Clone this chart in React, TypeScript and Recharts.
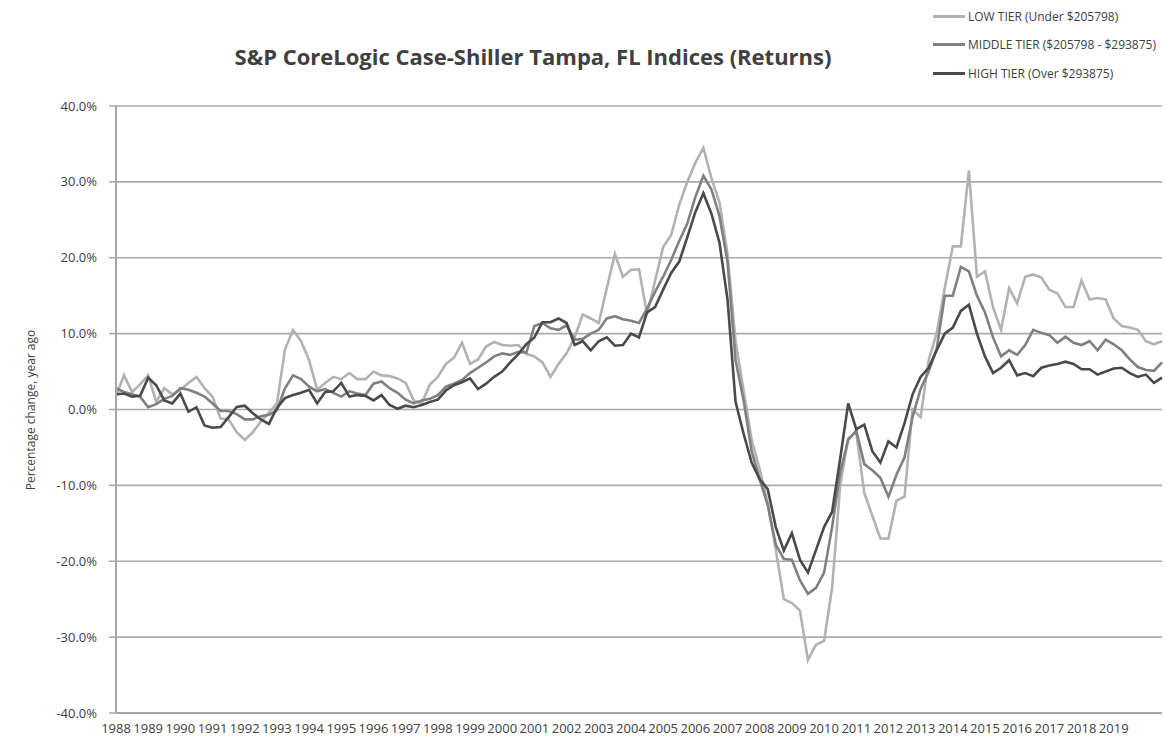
import React from 'react';
import { LineChart, Line, XAxis, YAxis, CartesianGrid } from 'recharts';

// quarterly year-over-year change (%), Q1 1988 .. Q3 2020
const lowTier = [
    1.8, 4.5, 2.3, 3.3,
    4.5, 1.0, 2.8, 2.0,
    2.6, 3.5, 4.3, 2.8,
    1.7, -1.2, -1.3, -3.0,
    -4.0, -3.0, -1.6, -0.4,
    0.8, 7.9, 10.5, 9.0,
    6.5, 2.6, 3.5, 4.3,
    4.0, 4.8, 4.0, 4.0,
    5.0, 4.5, 4.4, 4.1,
    3.5, 1.2, 0.8, 3.3,
    4.3, 6.0, 6.8, 8.8,
    6.0, 6.6, 8.3, 8.9,
    8.5, 8.4, 8.5, 7.3,
    7.0, 6.2, 4.3, 6.0,
    7.4, 9.5, 12.5, 12.0,
    11.4, 16.0, 20.5, 17.5,
    18.4, 18.5, 12.5, 17.0,
    21.4, 23.0, 27.0, 30.0,
    32.5, 34.5, 30.5, 27.3,
    20.5, 9.0, 2.5, -4.0,
    -7.9, -12.4, -18.5, -25.0,
    -25.5, -26.5, -33.0, -31.0,
    -30.5, -23.5, -10.0, -3.8,
    -3.0, -11.0, -14.0, -17.0,
    -17.0, -12.0, -11.5, 0.0,
    -1.0, 6.5, 10.1, 16.0,
    21.5, 21.5, 31.5, 17.5,
    18.2, 13.5, 10.5, 16.0,
    14.0, 17.5, 17.8, 17.4,
    15.8, 15.3, 13.5, 13.5,
    17.0, 14.5, 14.7, 14.5,
    12.0, 11.0, 10.8, 10.5,
    9.0, 8.6, 9.0,
];

const middleTier = [
    2.8, 2.3, 2.0, 1.7,
    0.3, 0.7, 1.4, 1.8,
    2.8, 2.6, 2.2, 1.7,
    0.8, -0.2, -0.2, -0.6,
    -1.3, -1.3, -0.9, -0.7,
    -0.1, 2.8, 4.5, 4.0,
    3.0, 2.4, 2.7, 2.2,
    1.7, 2.4, 2.1, 1.9,
    3.4, 3.7, 2.8, 2.2,
    1.3, 0.8, 1.2, 1.4,
    1.9, 3.0, 3.4, 3.9,
    4.8, 5.5, 6.2, 7.0,
    7.4, 7.2, 7.6, 7.5,
    11.0, 11.4, 10.7, 10.5,
    11.1, 9.2, 9.3, 10.0,
    10.5, 12.0, 12.3, 11.9,
    11.7, 11.4, 13.3, 15.5,
    17.5, 19.7, 22.2, 24.5,
    28.0, 30.8, 29.0, 25.5,
    19.5, 6.5, 1.2, -5.5,
    -9.2, -12.6, -17.8, -19.7,
    -19.8, -22.5, -24.3, -23.5,
    -21.5, -15.5, -8.3, -4.0,
    -2.8, -7.2, -8.0, -9.0,
    -11.5, -8.6, -6.3, -1.0,
    2.7, 5.0, 8.0, 15.0,
    15.0, 18.8, 18.2, 15.0,
    12.8, 9.5, 7.0, 7.8,
    7.2, 8.5, 10.5, 10.1,
    9.8, 8.8, 9.6, 8.8,
    8.5, 9.0, 7.8, 9.2,
    8.6, 7.8, 6.6, 5.6,
    5.2, 5.1, 6.2,
];

const highTier = [
    2.0, 2.1, 1.7, 1.8,
    4.2, 3.2, 1.2, 0.8,
    2.1, -0.3, 0.3, -2.1,
    -2.4, -2.3, -1.0, 0.35,
    0.5, -0.5, -1.3, -1.9,
    0.2, 1.5, 1.9, 2.2,
    2.6, 0.8, 2.3, 2.4,
    3.5, 1.7, 1.9, 1.8,
    1.2, 1.9, 0.6, 0.1,
    0.5, 0.3, 0.6, 1.0,
    1.3, 2.5, 3.2, 3.6,
    4.1, 2.7, 3.4, 4.3,
    5.0, 6.2, 7.3, 8.6,
    9.5, 11.5, 11.5, 12.0,
    11.4, 8.5, 9.0, 7.8,
    9.0, 9.5, 8.4, 8.5,
    10.0, 9.5, 12.8, 13.5,
    15.8, 18.0, 19.5, 22.7,
    26.0, 28.5, 25.8, 22.0,
    14.5, 1.0, -3.2, -7.0,
    -9.2, -10.5, -15.5, -18.6,
    -16.3, -19.8, -21.5, -18.5,
    -15.5, -13.5, -6.5, 0.8,
    -2.6, -2.0, -5.5, -7.0,
    -4.2, -5.0, -1.8, 2.0,
    4.3, 5.5, 7.8, 10.0,
    10.8, 13.0, 13.8, 10.0,
    7.0, 4.8, 5.5, 6.5,
    4.5, 4.8, 4.4, 5.5,
    5.8, 6.0, 6.3, 6.0,
    5.3, 5.3, 4.6, 5.0,
    5.4, 5.5, 4.8, 4.3,
    4.6, 3.5, 4.2,
];

const yearTicks = [
    1988, 1989, 1990, 1991, 1992, 1993, 1994, 1995, 1996, 1997, 1998,
    1999, 2000, 2001, 2002, 2003, 2004, 2005, 2006, 2007, 2008, 2009,
    2010, 2011, 2012, 2013, 2014, 2015, 2016, 2017, 2018, 2019,
];
const pctTicks = [-40, -30, -20, -10, 0, 10, 20, 30, 40];

const series = [
    { key: 'low', name: 'LOW TIER (Under $205798)', color: '#b2b2b2' },
    { key: 'middle', name: 'MIDDLE TIER ($205798 - $293875)', color: '#808080' },
    { key: 'high', name: 'HIGH TIER (Over $293875)', color: '#4a4a4a' },
];

const START_YEAR = 1988;
const data = lowTier.map((v, i) => ({
    t: START_YEAR + i / 4,
    low: v,
    middle: middleTier[i],
    high: highTier[i],
}));

const FONT = '"Open Sans", sans-serif';

const App: React.FC = () => {
    return (
        <div style={{ position: 'absolute', left: 0, top: 0, width: 1166, height: 740, background: '#fff', fontFamily: FONT }}>
            <div style={{ position: 'absolute', left: 0, width: 1066, top: 41, textAlign: 'center', fontSize: 22, fontWeight: 700, color: '#404040' }}>
                S&amp;P CoreLogic Case-Shiller Tampa, FL Indices (Returns)
            </div>

            {/* legend, top right */}
            <div style={{ position: 'absolute', left: 933, top: 2, width: 233 }}>
                {series.map((s) => (
                    <div key={s.key} style={{ display: 'flex', alignItems: 'center', height: 28.5 }}>
                        <span style={{ display: 'inline-block', width: 32, height: 3, background: s.color, marginRight: 3, flexShrink: 0 }} />
                        <span style={{ fontSize: 12, color: '#404040', whiteSpace: 'nowrap' }}>{s.name}</span>
                    </div>
                ))}
            </div>

            <div style={{ position: 'absolute', left: 30, top: 410, transform: 'translate(-50%, -50%) rotate(-90deg)', fontSize: 12, color: '#404040', whiteSpace: 'nowrap' }}>
                Percentage change, year ago
            </div>

            <LineChart width={1166} height={740} data={data} margin={{ top: 106, right: 4, bottom: 0, left: 36 }}>
                <CartesianGrid vertical={false} stroke="#ababab" strokeWidth={1.6} />
                <XAxis
                    dataKey="t"
                    type="number"
                    domain={[1988, 2020.5]}
                    ticks={yearTicks}
                    interval={0}
                    tickLine={false}
                    axisLine={{ stroke: '#a6a6a6', strokeWidth: 2 }}
                    tick={{ fontSize: 13, fill: '#404040', fontFamily: FONT }}
                    tickMargin={5}
                    height={27}
                />
                <YAxis
                    domain={[-40, 40]}
                    ticks={pctTicks}
                    interval={0}
                    tickFormatter={(v: number) => `${v.toFixed(1)}%`}
                    tickSize={7}
                    tickMargin={12}
                    tickLine={{ stroke: '#a6a6a6', strokeWidth: 1.5 }}
                    axisLine={{ stroke: '#a6a6a6', strokeWidth: 2 }}
                    tick={{ fontSize: 13, fill: '#404040', fontFamily: FONT }}
                    width={80}
                />
                {series.map((s) => (
                    <Line
                        key={s.key}
                        type="linear"
                        dataKey={s.key}
                        name={s.name}
                        stroke={s.color}
                        strokeWidth={2.6}
                        dot={false}
                        isAnimationActive={false}
                    />
                ))}
            </LineChart>
        </div>
    );
};

export default App;
